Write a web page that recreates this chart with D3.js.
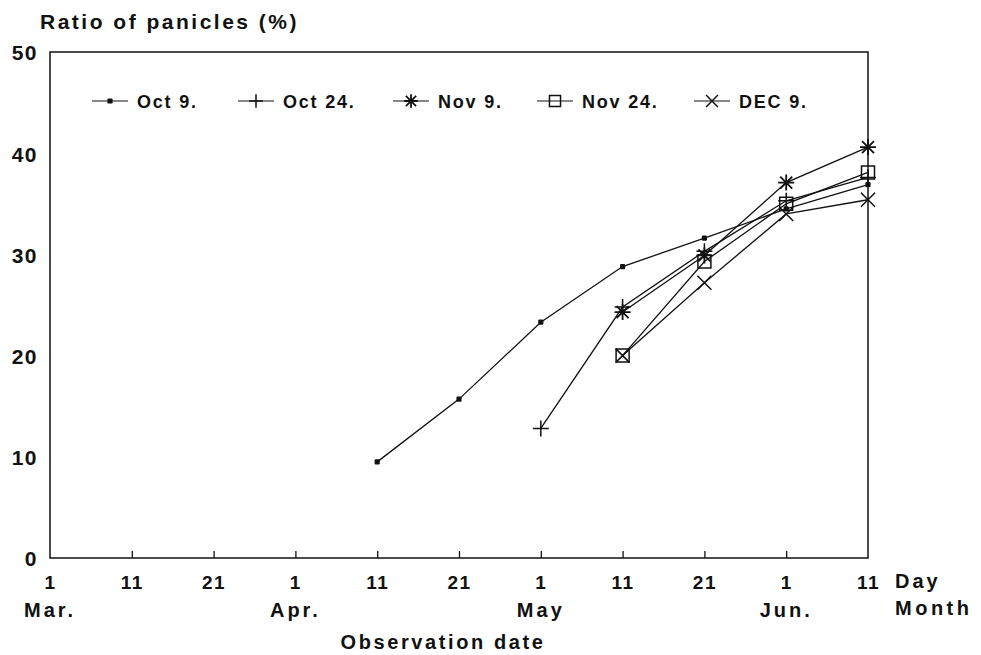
<!DOCTYPE html>
<html>
<head>
<meta charset="utf-8">
<script src="https://cdn.jsdelivr.net/npm/d3@7/dist/d3.min.js"></script>
<style>
  html, body { margin: 0; padding: 0; background: #fff; }
  svg text { font-family: "Liberation Sans", Arial, Helvetica, sans-serif; font-weight: bold; fill: #111; }
</style>
</head>
<body>
<svg id="chart" width="981" height="655"></svg>
<script>
// Observation dates (10-day steps from 1 March to 11 June)
const dayLabels = ["1", "11", "21", "1", "11", "21", "1", "11", "21", "1", "11"];
const monthLabels = [
  { i: 0, label: "Mar." },
  { i: 3, label: "Apr." },
  { i: 6, label: "May" },
  { i: 9, label: "Jun." }
];
const yTicks = [0, 10, 20, 30, 40, 50];

// Ratio of panicles (%) by sowing date; null = not yet observed
const oct9  = [null, null, null, null, 9.5, 15.7, 23.3, 28.8, 31.6, 34.5, 36.9];
const oct24 = [null, null, null, null, null, null, 12.8, 24.8, 30.3, 35.3, 37.6];
const nov9  = [null, null, null, null, null, null, null, 24.3, 29.9, 37.1, 40.6];
const nov24 = [null, null, null, null, null, null, null, 20.0, 29.3, 35.0, 38.1];
const dec9  = [null, null, null, null, null, null, null, 20.0, 27.2, 34.0, 35.4];

const seriesNames = ["Oct 9.", "Oct 24.", "Nov 9.", "Nov 24.", "DEC 9."];
const seriesValues = [oct9, oct24, nov9, nov24, dec9];
const seriesMarks = ["dot", "plus", "star", "square", "cross"];

const svg = d3.select("#chart");
const plotL = 50, plotR = 868, plotT = 52, plotB = 558;

const x = d3.scaleLinear().domain([0, dayLabels.length - 1]).range([plotL, plotR]);
const y = d3.scaleLinear().domain([0, 50]).range([plotB, plotT]);

// Frame
svg.append("rect")
  .attr("x", plotL).attr("y", plotT)
  .attr("width", plotR - plotL).attr("height", plotB - plotT)
  .attr("fill", "none").attr("stroke", "#111").attr("stroke-width", 1.5);

// X axis: short inward ticks, day labels below
const xAxis = d3.axisBottom(x)
  .tickValues(d3.range(dayLabels.length))
  .tickFormat(i => dayLabels[i])
  .tickSizeInner(-7).tickSizeOuter(0);
const gx = svg.append("g").attr("transform", `translate(0,${plotB})`).call(xAxis);
gx.select(".domain").remove();
gx.selectAll(".tick line").attr("stroke", "#111").attr("stroke-width", 1.3);
gx.selectAll(".tick").filter(d => d === 0 || d === dayLabels.length - 1).select("line").remove();
gx.selectAll(".tick text")
  .attr("y", 31).attr("dy", 0)
  .attr("font-size", 19).attr("letter-spacing", 1.5)
  .attr("font-family", "Liberation Sans, Arial, sans-serif").attr("font-weight", "bold")
  .attr("fill", "#111");

// Month labels
svg.append("g").selectAll("text").data(monthLabels).join("text")
  .attr("x", d => x(d.i)).attr("y", 617)
  .attr("text-anchor", "middle").attr("font-size", 20).attr("letter-spacing", 3)
  .text(d => d.label);

svg.append("text").attr("x", 895).attr("y", 588)
  .attr("font-size", 20).attr("letter-spacing", 3).text("Day");
svg.append("text").attr("x", 895).attr("y", 615)
  .attr("font-size", 20).attr("letter-spacing", 3.5).text("Month");

svg.append("text").attr("x", 443).attr("y", 649)
  .attr("text-anchor", "middle").attr("font-size", 20).attr("letter-spacing", 2.6)
  .text("Observation date");

// Y axis labels
const yAxis = d3.axisLeft(y).tickValues(yTicks).tickSize(0).tickPadding(12);
const gy = svg.append("g").attr("transform", `translate(${plotL},0)`).call(yAxis);
gy.select(".domain").remove();
gy.selectAll(".tick text")
  .attr("font-size", 21).attr("letter-spacing", 1.5)
  .attr("font-family", "Liberation Sans, Arial, sans-serif").attr("font-weight", "bold")
  .attr("fill", "#111").attr("dy", "0.38em");

svg.append("text").attr("x", 40).attr("y", 29)
  .attr("font-size", 21).attr("letter-spacing", 2.5)
  .text("Ratio of panicles (%)");

// Marker shapes drawn as paths centred on (0,0)
function markPath(kind, k) {
  switch (kind) {
    case "plus": return `M${-8 * k},0H${8 * k}M0,${-8 * k}V${8 * k}`;
    case "star": return `M${-8 * k},0H${8 * k}M0,${-8 * k}V${8 * k}M${-6 * k},${-6 * k}L${6 * k},${6 * k}M${-6 * k},${6 * k}L${6 * k},${-6 * k}`;
    case "square": return `M${-6.5 * k},${-6.5 * k}H${6.5 * k}V${6.5 * k}H${-6.5 * k}Z`;
    case "cross": return `M${-7 * k},${-7 * k}L${7 * k},${7 * k}M${-7 * k},${7 * k}L${7 * k},${-7 * k}`;
  }
}
function drawMark(g, kind, cx, cy, k = 1) {
  if (kind === "dot") {
    g.append("rect").attr("x", cx - 2.6).attr("y", cy - 2.6)
      .attr("width", 5.2).attr("height", 5.2).attr("rx", 1.2).attr("fill", "#111");
  } else {
    g.append("path").attr("d", markPath(kind, k))
      .attr("transform", `translate(${cx},${cy})`)
      .attr("fill", "none").attr("stroke", "#111")
      .attr("stroke-width", kind === "star" ? 1.8 : 1.5);
  }
}

const line = d3.line().defined(d => d.v != null).x(d => x(d.i)).y(d => y(d.v));
const plot = svg.append("g");
seriesValues.forEach((vals, s) => {
  const pts = vals.map((v, i) => ({ i, v }));
  plot.append("path").datum(pts).attr("d", line)
    .attr("fill", "none").attr("stroke", "#111").attr("stroke-width", 1.3);
  const g = plot.append("g");
  pts.filter(d => d.v != null).forEach(d => drawMark(g, seriesMarks[s], x(d.i), y(d.v)));
});

// Legend
const legendX = [92, 238, 393, 537, 694];
const legendY = 101;
const lg = svg.append("g");
seriesNames.forEach((name, s) => {
  const x0 = legendX[s];
  lg.append("line").attr("x1", x0).attr("x2", x0 + 36)
    .attr("y1", legendY).attr("y2", legendY)
    .attr("stroke", "#111").attr("stroke-width", 1.2);
  drawMark(lg, seriesMarks[s], x0 + 18, legendY, 0.85);
  lg.append("text").attr("x", x0 + 45).attr("y", legendY + 7)
    .attr("font-size", 18).attr("letter-spacing", 1.8).text(name);
});
</script>
</body>
</html>
